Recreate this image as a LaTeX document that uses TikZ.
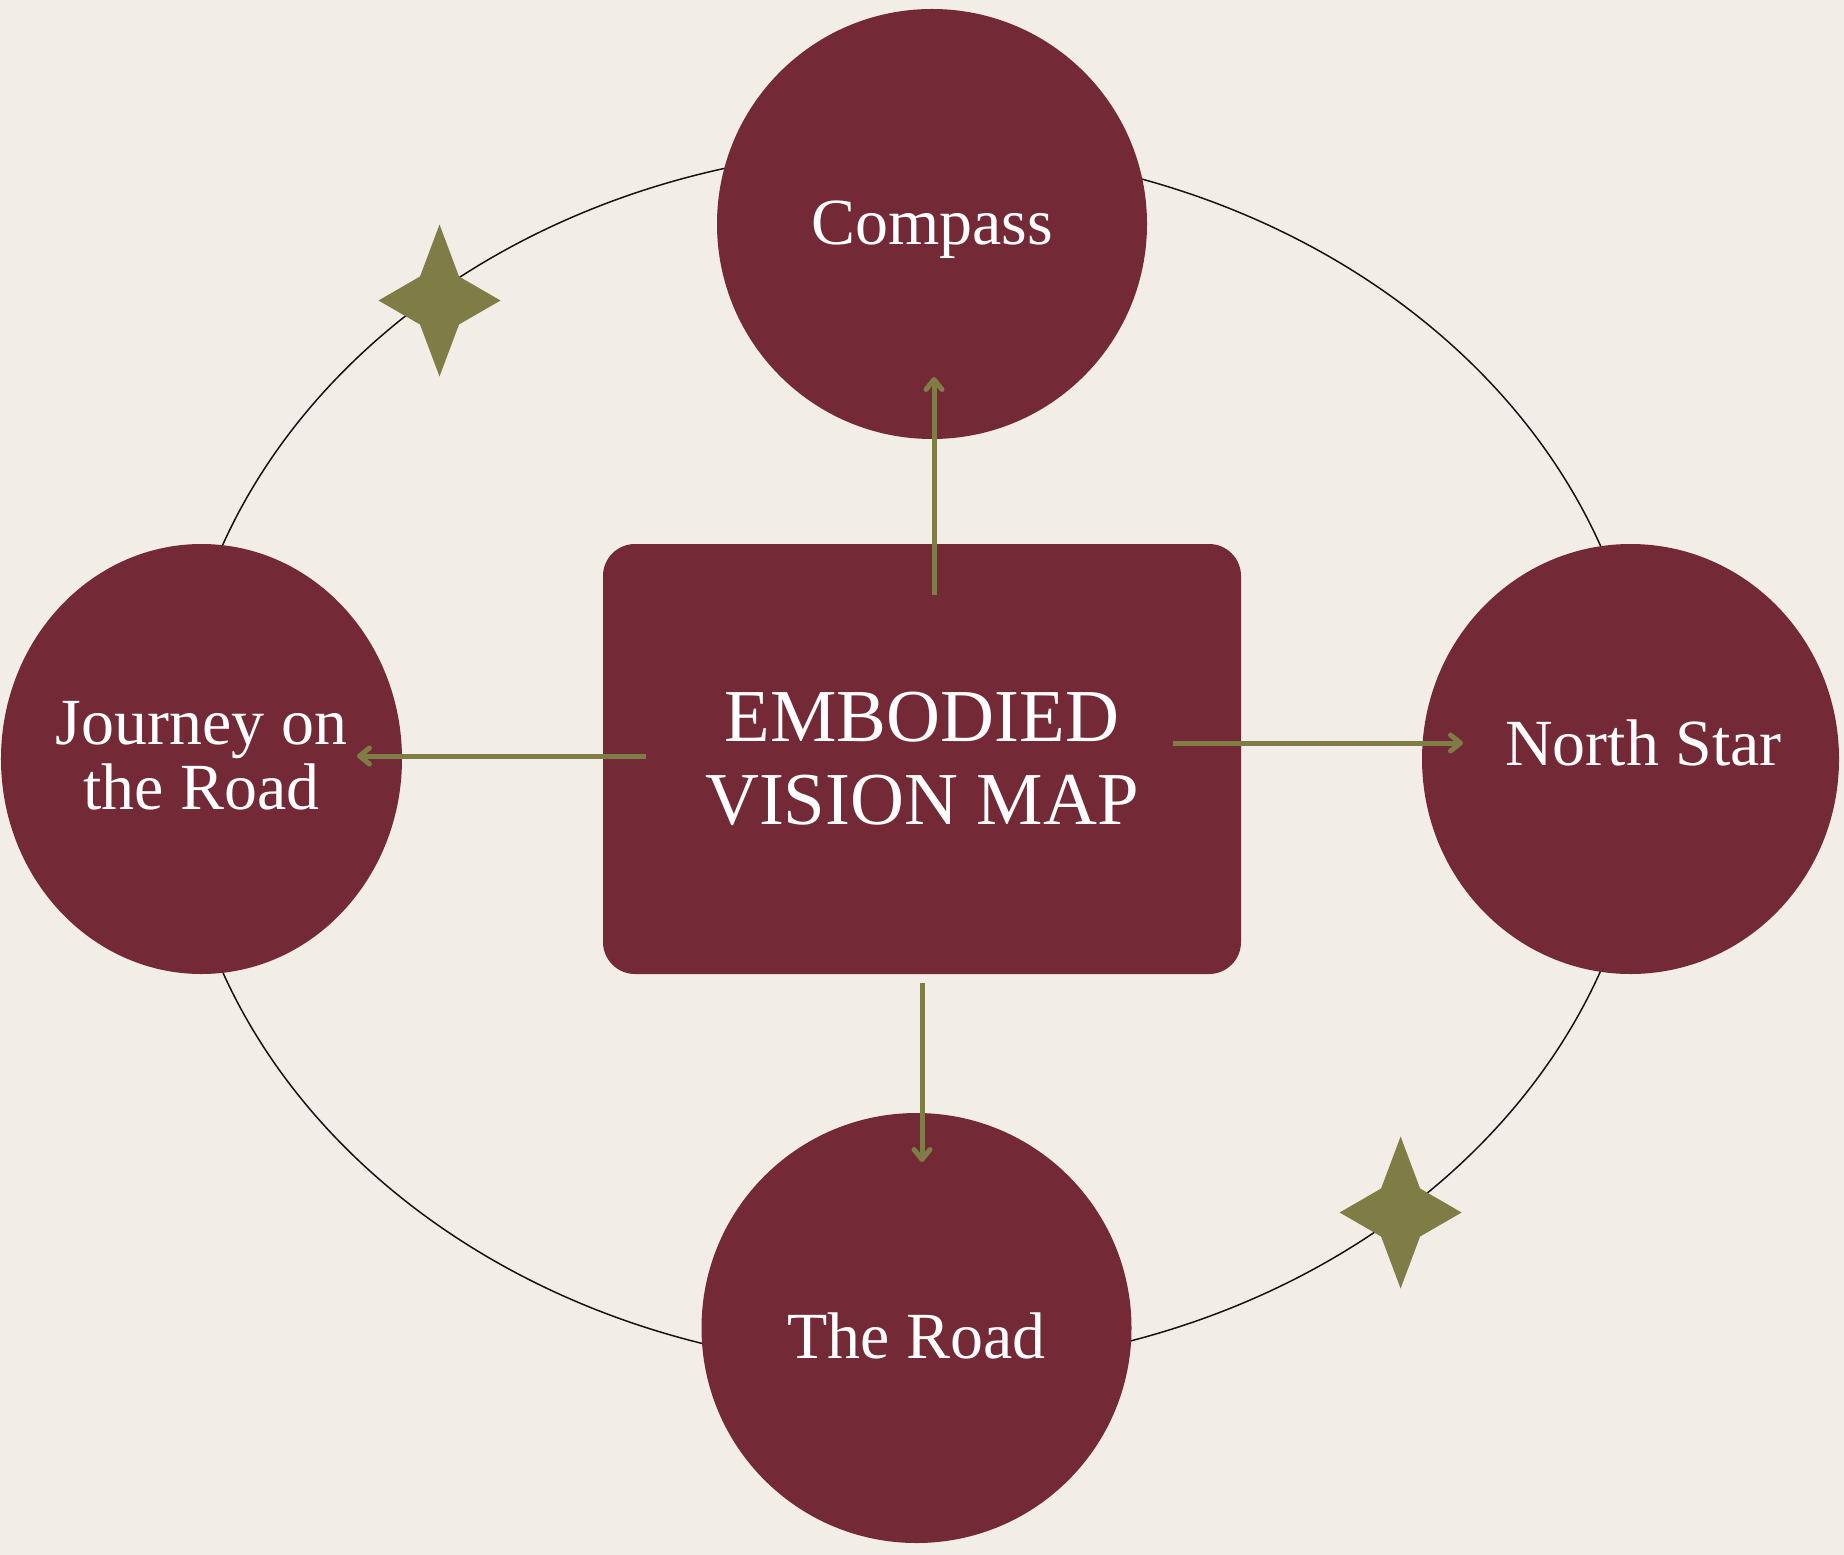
\documentclass[tikz,border=0pt]{standalone}
\usepackage{fontspec}
\setmainfont{Liberation Serif}
\usepackage{tikz}
\usetikzlibrary{
  shapes.geometric,
  arrows.meta,
  positioning,
  calc,
  backgrounds
}
\definecolor{papercolor}{RGB}{242, 237, 231}
\definecolor{winecolor}{RGB}{115, 42, 54}
\definecolor{olivecolor}{RGB}{127, 124, 70}
\definecolor{orbitcolor}{RGB}{20, 20, 20}
\tikzset{
spoketext/.style={
  align=center,
  font=\fontsize{37.5}{37}\selectfont,
  text=white
},
hubblock/.style={
  rectangle,
  rounded corners=6.4mm,
  fill=winecolor,
  minimum width=127.6mm,
  minimum height=86mm,
  outer sep=0pt,
  align=center,
  font=\fontsize{42.5}{47}\selectfont,
  text=white
},
spoke/.style={
  ellipse,
  fill=winecolor,
  inner sep=0pt,
  outer sep=0pt,
  minimum width=86mm,
  minimum height=86mm
},
arrow/.style={
  -{Straight Barb[length=2mm,width=3.2mm,round]},
  line width=1mm,
  draw=olivecolor
},
orbit/.style={
  draw=orbitcolor,
  line width=0.3mm
},
sparkle/.pic={
  \fill[olivecolor] (0,-76) -- (19.5,-24) -- (61,0) -- (19.5,24) -- (0,76)
    -- (-19.5,24) -- (-61,0) -- (-19.5,-24) -- cycle;
}
}

\begin{document}
\begin{tikzpicture}[x=0.2mm, y=-0.2mm]
      \useasboundingbox (0,0) rectangle (1844,1555);

      % Map in the middle
      \node[hubblock] (vision) at (922,759) {EMBODIED\\VISION MAP};

      % Four points round it
      \node[spoke, above=21mm of vision, xshift=2mm,
        label={[spoketext, yshift=-1.2mm]center:Compass}] (compass) {};
      \node[spoke, left=40.2mm of vision, minimum width=80.2mm,
        label={[spoketext, yshift=0.7mm]center:Journey on\\the Road}] (journey) {};
      \node[spoke, right=36.2mm of vision, minimum width=83.4mm,
        label={[spoketext, xshift=2.6mm, yshift=3.3mm]center:North Star}] (northstar) {};
      \node[spoke, below=27.8mm of vision, xshift=-1.1mm,
        label={[spoketext, yshift=-1.6mm]center:The Road}] (road) {};

      % Arrows
      \draw[arrow] ($(vision.north -| compass.south)+(2,51)$) -- ($(compass.south)+(2,-62)$);
      \draw[arrow] ($(vision.west)+(43,-3)$) -- ($(journey.east)+(-45,-3)$);
      \draw[arrow] ($(vision.east)+(-68,-16)$) -- ($(northstar.west)+(41,-16)$);
      \draw[arrow] ($(vision.south)+(0,9)$) -- ($(vision.south |- road.north)+(0,49)$);

      % Paper and orbit
      \begin{scope}[on background layer]
        \fill[papercolor] (0,0) rectangle (1844,1555);
        \draw[orbit] ($(vision.center)+(-10.6,-0.5)$) ellipse [x radius=147mm, y radius=122mm];
      \end{scope}

      % Sparkles on the orbit
      \pic at (439.5,300.5) {sparkle};
      \pic at (1400.6,1212.5) {sparkle};
    \end{tikzpicture}
\end{document}
